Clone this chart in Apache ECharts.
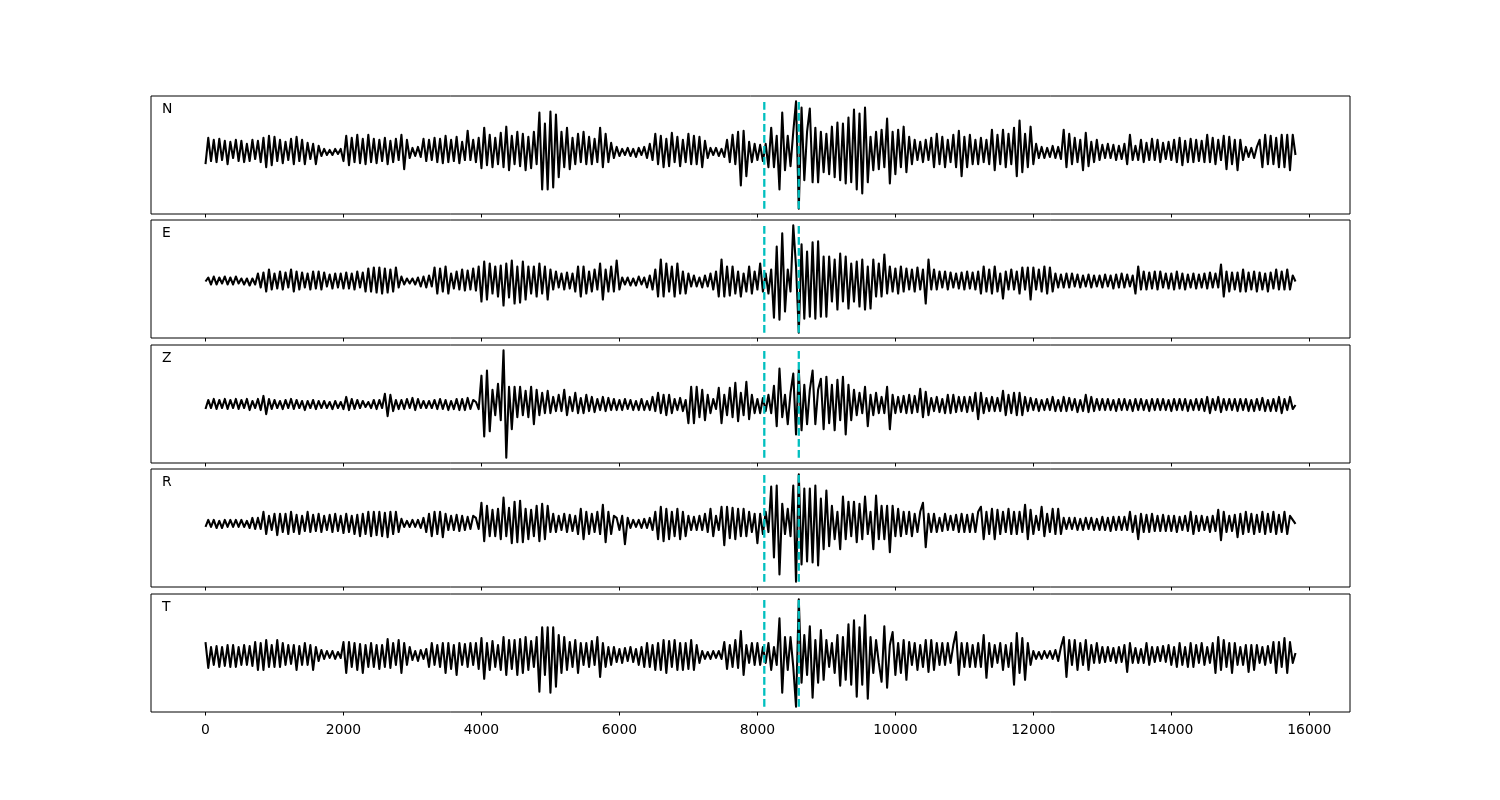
<!DOCTYPE html>
<html><head><meta charset="utf-8">
<script src="https://cdn.jsdelivr.net/npm/echarts@6/dist/echarts.min.js"></script>
<style>html,body{margin:0;padding:0;background:#fff}#c{width:1500px;height:800px}</style>
</head><body><div id="c"></div>
<script>
// sample spacing of the listed extremes (x units = samples)
const SAMPLE_STEP = 40;
const channels = ['N', 'E', 'Z', 'R', 'T'];
const pickLines = [8100, 8600];
const xTickValues = [0, 2000, 4000, 6000, 8000, 10000, 12000, 14000, 16000];

const traceN = [
-12,14,-9,12,-10,13,-8,11,-12,10,-6,12,-9,11,-10,8,-9,12,-7,11,-10,14,-15,16,-13,
15,-9,12,-11,10,-8,13,-12,15,-9,12,-12,9,-7,8,-12,6,-4,3,-3,2,-3,3,-2,3,
-9,16,-13,14,-10,17,-11,13,-12,17,-10,13,-11,12,-9,14,-12,11,-10,13,-8,17,-17,12,-6,
4,-4,5,-5,13,-9,12,-8,14,-10,13,-11,16,-10,12,-9,15,-11,10,-8,21,-8,12,-10,14,
-16,24,-13,17,-15,14,-12,19,-15,25,-18,16,-12,20,-14,18,-18,15,-16,20,-12,39,-37,28,-37,
40,-35,37,-25,20,-15,24,-17,14,-12,18,-10,20,-12,15,-12,13,-10,24,-15,18,-10,9,-6,5,
-4,3,-3,4,-4,3,-5,4,-3,5,-6,8,-8,18,-12,16,-15,13,-14,19,-10,15,-14,12,-10,
18,-12,16,-12,15,-15,11,-6,4,-3,4,-4,3,-5,12,-10,17,-12,20,-33,21,-24,10,-10,8,
-8,7,-9,8,-15,24,-15,16,-37,39,-18,16,-14,20,50,-56,44,-28,20,43,-30,24,-30,20,-20,
18,-22,25,-25,29,-28,28,-31,34,-30,42,-37,38,-41,44,-30,15,-18,20,-17,22,-15,33,-31,20,
-22,22,-15,25,-20,15,-12,12,-8,10,-10,12,-8,14,-15,18,-12,15,-15,12,-10,17,-15,21,-24,
15,-15,17,-12,12,-12,14,-10,12,-12,22,-18,17,-12,22,-15,18,-12,24,-24,31,-20,18,-15,25,
-12,8,-6,5,-6,4,-5,6,-6,5,-7,22,-15,18,-12,14,-10,12,-18,19,-14,10,-10,12,-8,
7,-6,8,-6,7,-8,6,-7,8,-12,17,-8,6,-8,12,-10,9,-8,13,-8,12,-10,9,-7,10,
-8,12,-10,14,-13,11,-10,13,-10,12,-9,11,-10,17,-10,14,-12,12,-8,16,-17,15,-12,12,-18,
12,-8,5,-5,4,-6,5,12,-15,17,-12,16,-12,14,-15,17,-15,17,-18,17,-3
];

const traceE = [
0,4,-3,5,-3,4,-2,5,-3,4,-3,5,-2,3,-3,3,-4,3,-3,8,-6,9,-10,12,-8,
8,-7,10,-8,9,-6,12,-10,10,-8,9,-6,8,-8,10,-7,10,-8,9,-5,7,-7,8,-6,8,
-7,9,-7,8,-8,10,-6,9,-10,13,-10,14,-11,14,-12,13,-11,12,-10,14,-6,5,-3,3,-2,
3,-3,4,-5,5,-6,6,-5,14,-12,13,-10,15,-12,8,-7,10,-8,12,-9,11,-8,13,-9,15,
-20,20,-18,18,-12,15,-15,16,-24,18,-16,21,-22,15,-21,20,-18,15,-12,15,-15,18,-12,15,-18,
12,-8,10,-6,8,-8,9,-7,8,-10,15,-15,15,-12,10,-10,12,-8,18,-18,12,-10,15,-10,21,
-8,4,-3,4,-4,3,-4,5,-3,4,-6,6,-8,12,-15,22,-15,18,-10,15,-15,18,-12,10,-12,
8,-5,6,-5,4,-6,6,-5,8,-8,10,-15,22,-15,15,-14,15,-12,10,-15,8,-10,15,-12,10,
-8,18,-10,8,-12,12,-36,35,-38,48,-30,12,-10,56,15,-51,37,-37,30,-35,39,-37,40,-35,25,
-35,25,-20,22,-28,28,-20,25,-27,18,-20,20,-25,22,-28,15,-27,22,-15,18,-15,27,-12,15,-10,
13,-12,15,-10,13,-8,12,-10,14,-8,12,-22,22,-8,12,-8,10,-6,10,-8,9,-6,8,-7,9,
-8,10,-7,9,-8,10,-12,15,-10,12,-12,15,-10,8,-17,10,-8,12,-8,10,-12,14,-8,14,-18,
14,-8,12,-10,15,-12,14,-10,8,-6,7,-6,8,-6,8,-5,7,-6,6,-5,7,-6,6,-5,6,
-6,7,-5,6,-7,7,-6,8,-6,7,-5,6,-12,15,-8,10,-8,9,-7,10,-8,10,-6,8,-7,
8,-8,10,-7,8,-8,7,-6,8,-7,7,-6,8,-7,9,-6,8,-6,17,-15,10,-10,9,-8,9,
-10,12,-10,9,-8,10,-10,9,-8,8,-10,9,-7,12,-8,10,-8,12,-8,6,0
];

const traceZ = [
-4,5,-3,6,-4,5,-3,6,-4,5,-3,6,-4,5,-3,6,-5,4,-3,6,-5,9,-9,6,-4,
5,-3,4,-4,5,-3,6,-4,5,-3,4,-5,4,-3,5,-4,4,-3,4,-3,3,-4,4,-3,3,
-4,8,-5,6,-4,5,-3,4,-2,3,-3,5,-4,5,-3,11,-11,10,-6,5,-4,5,-4,6,-3,
7,-5,6,-3,4,-3,4,-3,5,-4,6,-4,5,-5,4,-4,6,-5,6,-5,7,-4,5,3,-4,
29,-31,34,-26,15,-10,21,-15,54,-52,18,-24,18,-12,18,-10,14,-12,18,-19,15,-10,12,-8,14,
-8,8,-6,10,-6,15,-10,8,-6,12,-8,7,-8,10,-6,8,-7,6,-5,8,-6,7,-5,6,-5,
5,-5,6,-4,5,-5,4,-5,6,-5,4,-5,8,-6,12,-8,10,-10,10,-8,6,-5,7,-6,5,
-18,18,-18,18,-12,15,-15,10,-8,6,-4,17,-18,10,-10,17,-12,22,-16,12,-10,23,-14,10,-8,
6,-8,7,-6,10,-8,19,-21,36,-12,10,-19,12,31,-29,35,-25,20,-19,15,34,-19,15,26,-24,
28,-18,20,-25,25,-15,28,-29,20,-15,15,-10,12,-8,18,-21,10,-10,12,-8,8,-8,18,-24,10,
-8,8,-7,9,-8,10,-8,9,-7,16,-12,13,-10,7,-6,8,-7,6,-8,10,-8,10,-7,8,-6,
8,-7,8,-6,12,-14,12,-8,7,-6,8,-6,7,-6,14,-10,10,-8,12,-10,12,-10,8,-6,7,
-5,6,-6,5,-5,6,-5,8,-6,5,-6,8,-6,7,-5,6,-7,5,-6,10,-7,8,-6,6,-5,
6,-5,6,-5,5,-6,6,-5,6,-5,5,-6,6,-5,6,-5,5,-6,6,-5,6,-5,6,-5,5,
-6,6,-5,6,-5,6,-6,5,-5,6,-5,6,-6,8,-8,6,-5,8,-7,6,-5,6,-5,6,-6,
6,-5,6,-6,5,-6,6,-5,7,-6,5,-6,6,-6,8,-8,6,-5,8,-4,0
];

const traceR = [
-3,4,-3,4,-4,3,-4,4,-3,4,-3,4,-3,4,-3,3,-4,6,-5,6,-5,12,-10,8,-6,
10,-11,10,-8,10,-10,12,-8,9,-10,8,-7,12,-8,9,-7,10,-8,8,-6,9,-8,10,-7,8,
-9,10,-8,8,-10,9,-12,10,-10,12,-12,12,-11,12,-12,11,-13,12,-10,12,-8,5,-3,3,-3,
4,-3,4,-4,6,-8,10,-12,12,-10,12,-13,10,-6,8,-6,9,-7,8,-6,7,-5,8,6,-5,
21,-17,18,-12,14,-12,15,-15,26,-12,16,-19,22,-18,23,-18,15,-15,14,-12,18,-17,20,-15,18,
-8,10,-8,8,-6,10,-8,9,-7,8,-10,15,-15,12,-10,10,-8,12,-10,19,-18,12,-10,8,6,
-6,8,-20,6,-4,4,-3,4,-4,5,-4,6,-6,12,-15,17,-17,15,-15,12,-12,15,-15,12,-12,
8,-6,7,-6,8,-6,10,-8,15,-12,8,-6,17,-21,17,-14,16,-15,15,-12,15,-12,12,-8,10,
-19,10,-10,12,-8,37,-33,38,-50,20,-10,15,-12,38,-57,49,-40,35,-37,35,-38,38,-41,25,-25,
33,-22,18,-15,12,-25,27,-15,22,-12,22,-18,20,-15,27,-10,12,-25,28,-15,18,-15,18,-28,18,
-12,15,-12,12,-10,12,-12,10,-8,12,21,-23,10,-8,10,-8,6,-7,10,-6,8,-6,9,-8,10,
-8,9,-8,10,-8,12,17,-15,12,-10,15,-15,14,-10,12,-8,15,-10,12,-10,12,-8,19,-15,14,
-10,8,-6,17,-12,10,-8,15,-10,15,-10,6,-5,6,-5,6,-6,5,-6,6,-5,6,-6,5,-6,
7,-6,6,-7,7,-6,7,-6,7,-6,12,-8,8,-15,10,-8,9,-8,10,-7,8,-7,9,-7,8,
-7,8,-8,7,-6,8,-7,12,-10,8,-7,8,-6,7,-8,8,-7,14,-16,12,-8,8,-7,9,-13,
10,-10,12,-8,10,-10,9,-8,12,-10,10,-8,12,-10,9,-8,12,-10,8,4,0
];

const traceT = [
13,-13,8,-10,9,-12,8,-11,10,-12,10,-12,8,-10,10,-10,9,-11,13,-15,12,-15,15,-12,10,
-12,15,-12,12,-10,10,-9,10,-15,9,-10,12,-10,10,-15,8,-6,5,-4,4,-3,4,-4,3,-3,
13,-18,13,-12,12,-15,11,-18,10,-12,12,-12,10,-14,10,-12,16,-13,12,-10,15,-18,12,-10,8,
-5,4,-6,5,-4,6,-12,12,-10,10,-12,12,-18,12,-14,10,-20,12,-10,11,-12,12,-10,12,-14,
17,-24,12,-15,14,-12,10,-15,18,-20,15,-14,15,-20,16,-18,18,-15,14,-12,18,-37,28,-20,28,
-38,28,-32,20,-18,18,-15,13,-12,15,-18,12,-10,12,-12,14,-10,18,-22,12,-12,8,-10,8,-7,
6,-8,7,-6,8,-7,6,-10,8,-12,12,-12,10,-15,12,-15,15,-18,14,-12,15,-15,12,-15,12,
-14,15,-15,10,-8,4,-4,3,-4,4,-3,4,-4,13,-14,10,-12,15,-13,24,-20,10,-8,12,-10,
12,-10,8,-8,12,-15,8,-10,37,-38,18,-15,18,-12,-52,56,-28,20,-20,29,-43,15,-28,25,-25,
15,-12,12,-18,20,-31,18,-25,31,-30,35,-42,28,-30,40,-44,18,-18,15,-8,-27,29,-33,10,23,
-20,12,-18,15,-25,13,-10,12,-15,10,-12,15,-17,15,-15,12,-10,12,-10,12,-8,10,23,-20,12,
-12,12,-12,10,-12,12,-12,20,-23,12,-12,10,-8,12,-15,10,-12,12,-30,22,-18,17,-25,12,-10,
4,-4,3,-4,4,-3,4,-4,5,-6,8,18,-22,15,-10,15,-15,12,-10,15,-15,10,-8,12,-8,
8,-7,8,-6,7,-8,8,-7,10,-17,12,-8,7,-8,6,-8,12,-10,8,-7,8,-6,9,-7,10,
-10,8,-12,12,-10,8,-12,12,-12,10,-8,12,-10,8,-8,12,-18,18,-15,15,-12,12,-18,12,-10,
8,-10,10,-17,10,-15,10,-8,8,-10,9,-8,13,-18,13,-12,17,-18,13,-8,2
];

const traces = [traceN, traceE, traceZ, traceR, traceT];

// panel layout (pixels)
const panelLeft = 151, panelWidth = 1199;
const panelTops = [96, 220, 345, 469, 594];
const panelHeight = 118;

const chart = echarts.init(document.getElementById('c'), null, {renderer: 'canvas'});

const lastX = (traces[0].length - 1) * SAMPLE_STEP;
const xMargin = lastX * 0.05;

const grids = [], xAxes = [], yAxes = [], series = [], graphics = [];
const FONT = 'DejaVu Sans';

traces.forEach((tr, k) => {
  const dmin = Math.min(...tr), dmax = Math.max(...tr);
  const pad = (dmax - dmin) * 0.05;
  grids.push({
    left: panelLeft, top: panelTops[k], width: panelWidth, height: panelHeight,
    show: true, borderColor: '#000', borderWidth: 1, backgroundColor: 'transparent',
    containLabel: false
  });
  xAxes.push({
    type: 'value', gridIndex: k, position: 'bottom', min: -xMargin, max: lastX + xMargin,
    axisLine: {show: false, onZero: false},
    splitLine: {show: false},
    axisTick: {show: true, customValues: xTickValues, length: 3.5, inside: false,
               lineStyle: {color: '#000', width: 1}},
    axisLabel: {show: k === traces.length - 1, customValues: xTickValues, margin: 11,
                color: '#000', fontSize: 13.9, fontFamily: FONT,
                formatter: v => String(v)}
  });
  yAxes.push({
    type: 'value', gridIndex: k, min: dmin - pad, max: dmax + pad,
    show: false, splitLine: {show: false}
  });
  series.push({
    type: 'line', xAxisIndex: k, yAxisIndex: k,
    data: tr.map((v, i) => [i * SAMPLE_STEP, v]),
    showSymbol: false, symbol: 'none', sampling: null,
    lineStyle: {color: '#000', width: 2.08, join: 'round'},
    z: 2, silent: true
  });
  pickLines.forEach(p => {
    series.push({
      type: 'line', xAxisIndex: k, yAxisIndex: k,
      data: [[p, dmin], [p, dmax]],
      showSymbol: false, symbol: 'none',
      lineStyle: {color: '#00bfbf', width: 2.3, type: [7.7, 3.3], cap: 'butt'},
      z: 3, silent: true
    });
  });
  graphics.push({
    type: 'text', left: 162, top: panelTops[k] + 6,
    style: {text: channels[k], fill: '#000', font: '13.9px "DejaVu Sans"'}
  });
});

chart.setOption({
  animation: false,
  backgroundColor: '#fff',
  grid: grids, xAxis: xAxes, yAxis: yAxes, series: series,
  graphic: graphics
});
</script>
</body></html>
